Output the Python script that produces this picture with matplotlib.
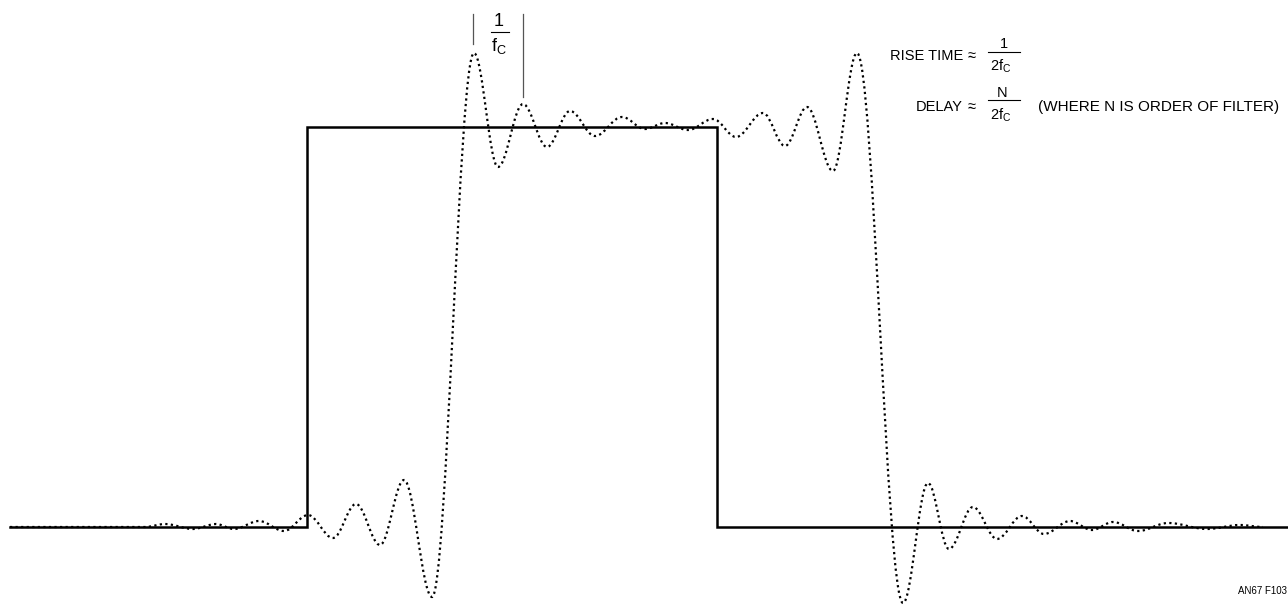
import matplotlib
matplotlib.use('Agg')
import matplotlib.pyplot as plt
from matplotlib.path import Path
from matplotlib.patches import PathPatch
from matplotlib import font_manager

# ---------------- data (pixel-space coordinates) ----
W, H = 1288, 605
baseline_y = 527
top_y = 127
rise_x = 307
fall_x = 717
line_start_x = 10
line_end_x = 1288

# extrema of the ringing (dotted) response
ring_x = [10, 145, 165, 193, 216, 234, 259, 284, 308, 333, 356, 380, 404, 432,
          474, 498, 523, 547, 570, 595, 622, 645, 665, 688, 713, 736, 763, 785,
          807, 833, 857, 903, 928, 949, 973, 997, 1022, 1044, 1070, 1092, 1113,
          1138, 1168, 1207, 1240, 1263]
ring_y = [527, 527, 524, 529, 524, 529, 521, 531, 515, 538, 504, 545, 480, 597,
          53, 167, 104, 147, 111, 136, 117, 129, 123, 130, 119, 137, 113, 146,
          107, 171, 53, 603, 483, 549, 507, 539, 516, 534, 521, 530, 522,
          531, 523, 529, 525, 527]

period_marks_x = [473, 523]
period_marks_top = [14, 14]
period_marks_bottom = [44, 97]

rise_label = "RISE TIME"
delay_label = "DELAY"
approx = "≈"
delay_note = "(WHERE N IS ORDER OF FILTER)"
fig_id = "AN67 F103"

# ---------------- fonts ----------------
names = {f.name for f in font_manager.fontManager.ttflist}
narrow = 'Liberation Sans Narrow' if 'Liberation Sans Narrow' in names else 'Liberation Sans'
plt.rcParams['font.family'] = [narrow, 'DejaVu Sans']
plt.rcParams['mathtext.fontset'] = 'custom'
plt.rcParams['mathtext.rm'] = narrow
plt.rcParams['mathtext.it'] = narrow

fig = plt.figure(figsize=(W / 100, H / 100), dpi=100)
ax = fig.add_axes([0, 0, 1, 1])
ax.set_xlim(0, W)
ax.set_ylim(H, 0)
ax.axis('off')

# square pulse
ax.plot([line_start_x, rise_x, rise_x, fall_x, fall_x, line_end_x],
        [baseline_y, baseline_y, top_y, top_y, baseline_y, baseline_y],
        color='black', lw=1.8, solid_joinstyle='miter', zorder=3)

# ringing response as a smooth bezier path through the extrema
k = 0.36
verts = [(ring_x[0], ring_y[0])]
codes = [Path.MOVETO]
for i in range(1, len(ring_x)):
    x0, y0 = ring_x[i - 1], ring_y[i - 1]
    x1, y1 = ring_x[i], ring_y[i]
    dx = x1 - x0
    verts += [(x0 + k * dx, y0), (x1 - k * dx, y1), (x1, y1)]
    codes += [Path.CURVE4] * 3
patch = PathPatch(Path(verts, codes), fill=False, edgecolor='black', lw=1.6,
                  linestyle=(0, (1.0, 1.5)), capstyle='butt', zorder=4)
ax.add_patch(patch)

# 1/fC period marks
for x, y0, y1 in zip(period_marks_x, period_marks_top, period_marks_bottom):
    ax.plot([x, x], [y0, y1], color='#555555', lw=0.9)
ax.text(499, 21, "1", ha='center', va='center', fontsize=13)
ax.plot([491, 509], [32, 32], color='black', lw=0.8)
ax.text(499, 46, r"$\mathrm{f}_\mathrm{C}$", ha='center', va='center', fontsize=13)

# formulas
fs = 10.5
ax.text(963, 56, rise_label, ha='right', va='center', fontsize=fs)
ax.text(972, 56, approx, ha='center', va='center', fontsize=fs)
ax.text(1004, 44, "1", ha='center', va='center', fontsize=fs)
ax.plot([988, 1020], [52, 52], color='black', lw=0.8)
ax.text(1001, 66, r"$\mathrm{2f}_\mathrm{C}$", ha='center', va='center', fontsize=fs)

ax.text(963, 107, delay_label, ha='right', va='center', fontsize=fs)
ax.text(972, 107, approx, ha='center', va='center', fontsize=fs)
ax.text(1002, 93, "N", ha='center', va='center', fontsize=fs)
ax.plot([988, 1020], [100, 100], color='black', lw=0.8)
ax.text(1001, 115, r"$\mathrm{2f}_\mathrm{C}$", ha='center', va='center', fontsize=fs)
ax.text(1038, 107, delay_note, ha='left', va='center', fontsize=11)

ax.text(1287, 591, fig_id, ha='right', va='center', fontsize=7,
        family=['Liberation Sans', 'DejaVu Sans'])

fig.savefig('out.png', dpi=100)
